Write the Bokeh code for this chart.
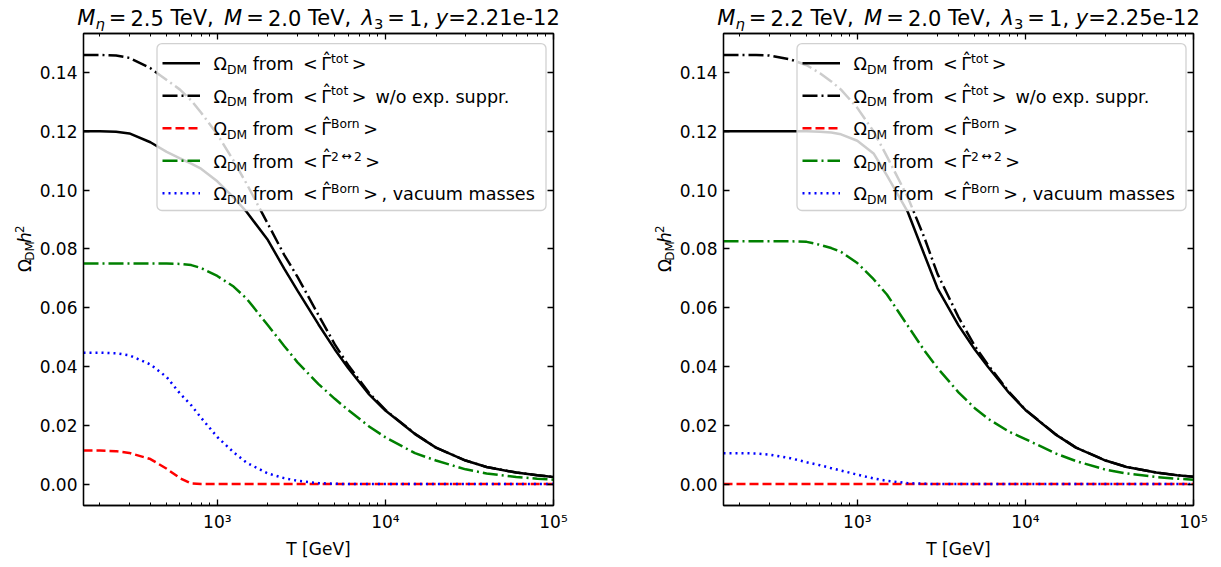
import math
from bokeh.plotting import figure
from bokeh.layouts import row, column
from bokeh.models import (Range1d, FixedTicker, LinearAxis, LogAxis, Label, Arrow,
                          BoxAnnotation, PrintfTickFormatter)
from bokeh.embed import file_html
from bokeh.resources import INLINE

# ---------------- data ----------------
T = [160, 200, 250, 300, 400, 500, 600, 700, 800, 1000, 1250, 1500, 2000, 2500,
     3000, 4000, 5000, 6000, 8000, 10000, 15000, 20000, 30000, 40000, 60000, 80000, 100000]

# left panel: M_eta = 2.5 TeV
tot_L = [0.1200, 0.1200, 0.1199, 0.1193, 0.1163, 0.1130, 0.1108, 0.1090, 0.1073, 0.1030,
         0.0975, 0.0925, 0.0830, 0.0733, 0.0658, 0.0543, 0.0458, 0.0395, 0.0305, 0.0250,
         0.0170, 0.0124, 0.0080, 0.0058, 0.0039, 0.0030, 0.0024]
nosup_L = [0.1460, 0.1460, 0.1458, 0.1450, 0.1415, 0.1375, 0.1342, 0.1305, 0.1264, 0.1190,
           0.1100, 0.1020, 0.0885, 0.0780, 0.0705, 0.0575, 0.0475, 0.0405, 0.0310, 0.0252,
           0.0171, 0.0124, 0.0080, 0.0058, 0.0039, 0.0030, 0.0024]
born_L = [0.0114, 0.0114, 0.0112, 0.0106, 0.0085, 0.0052, 0.0020, 0.0002, 0.0, 0.0,
          0.0, 0.0, 0.0, 0.0, 0.0, 0.0, 0.0, 0.0, 0.0, 0.0,
          0.0, 0.0, 0.0, 0.0, 0.0, 0.0, 0.0]
two_L = [0.0750, 0.0750, 0.0750, 0.0750, 0.0750, 0.0750, 0.0749, 0.0745, 0.0735, 0.0708,
         0.0672, 0.0630, 0.0540, 0.0470, 0.0414, 0.0340, 0.0290, 0.0252, 0.0196, 0.0159,
         0.0105, 0.0080, 0.0050, 0.0036, 0.0024, 0.0018, 0.0015]
vac_L = [0.0447, 0.0447, 0.0445, 0.0438, 0.0407, 0.0364, 0.0308, 0.0268, 0.0226, 0.0160,
         0.0108, 0.0072, 0.0036, 0.0020, 0.0011, 0.0003, 0.0001, 0.0, 0.0, 0.0,
         0.0, 0.0, 0.0, 0.0, 0.0, 0.0, 0.0]

# right panel: M_eta = 2.2 TeV
tot_R = [0.1200, 0.1200, 0.1200, 0.1200, 0.1200, 0.1200, 0.1199, 0.1196, 0.1190, 0.1168,
         0.1125, 0.1050, 0.0925, 0.0782, 0.0666, 0.0540, 0.0458, 0.0398, 0.0310, 0.0252,
         0.0170, 0.0124, 0.0080, 0.0058, 0.0039, 0.0030, 0.0025]
nosup_R = [0.1460, 0.1460, 0.1460, 0.1458, 0.1445, 0.1425, 0.1398, 0.1370, 0.1342, 0.1280,
           0.1200, 0.1115, 0.0975, 0.0840, 0.0715, 0.0568, 0.0470, 0.0405, 0.0313, 0.0253,
           0.0171, 0.0124, 0.0080, 0.0058, 0.0039, 0.0030, 0.0025]
born_R = [0.0] * 27
two_R = [0.0826, 0.0826, 0.0826, 0.0826, 0.0826, 0.0824, 0.0814, 0.0803, 0.0790, 0.0752,
         0.0697, 0.0645, 0.0538, 0.0455, 0.0395, 0.0312, 0.0258, 0.0222, 0.0178, 0.0153,
         0.0105, 0.0078, 0.0049, 0.0036, 0.0024, 0.0018, 0.0015]
vac_R = [0.0105, 0.0105, 0.0104, 0.0100, 0.0088, 0.0074, 0.0064, 0.0054, 0.0046, 0.0032,
         0.0019, 0.0011, 0.0003, 0.0001, 0.0, 0.0, 0.0, 0.0, 0.0, 0.0,
         0.0, 0.0, 0.0, 0.0, 0.0, 0.0, 0.0]

# titles
M_eta = ["2.5", "2.2"]
M_val = ["2.0", "2.0"]
lam3 = ["1", "1"]
yuk = ["2.21e-12", "2.25e-12"]

# legend superscripts / tails
leg_sup = ["tot", "tot", "Born", "2↔2", "Born"]
leg_tail = ["", " w/o exp. suppr.", "", "", ", vacuum masses"]

x_ticks = [1e3, 1e4, 1e5]
x_tick_labels = ["10³", "10⁴", "10⁵"]
y_ticks = [0.00, 0.02, 0.04, 0.06, 0.08, 0.10, 0.12, 0.14]
x_label = "T [GeV]"

XMIN, XMAX = 160, 1e5

# ---------------- styling ----------------
FONT = "DejaVu Sans"
FS = 17.0      # ticks, axis labels
LFS = 17.6     # legend
TFS = 21.0     # title
FW, FH = 470, 479
TITLE_H = 31
MAIN_TOP = 2
MAIN_BOT = 49
MAIN_H = MAIN_TOP + FH + MAIN_BOT
YLAB_W = 36
LW = 2.5
REL = 0.195
BFIX = 0.30    # correction of the label baseline placement (fraction of font size)

STYLES = [("black", "solid"), ("black", "15 4 2 4"), ("red", "9 4"),
          ("green", "15 4 2 4"), ("blue", "2 4")]

WID = {' ': .318, ',': .318, '.': .318, '/': .337, '-': .361, '=': .838, '<': .838,
       '>': .838, '[': .390, ']': .390, 'B': .686, 'D': .770, 'G': .775, 'M': .863,
       'T': .611, 'V': .684, 'a': .613, 'c': .550, 'e': .615, 'f': .352, 'h': .634,
       'm': .974, 'n': .634, 'o': .612, 'p': .635, 'r': .411, 's': .521, 't': .392,
       'u': .634, 'v': .592, 'w': .818, 'x': .592, 'y': .592, 'Ω': .765, 'Γ': .557,
       'η': .634, 'λ': .592, '↔': .838, 'ˆ': .500}
for d in "0123456789":
    WID[d] = .636


def twidth(s):
    return sum(WID.get(c, 0.6) for c in s)


def parts_width(parts, fs):
    w = 0
    for text, ital, sc, rise, pre in parts:
        w += pre * fs + twidth(text) * fs * sc
    return w


def put_text(p, X, Y, fx, fy, parts, fs):
    """Horizontal composite text; fx, fy in pixels (fy downward, baseline)."""
    x = fx
    for text, ital, sc, rise, pre in parts:
        x += pre * fs
        core = text.strip(" ")
        lead = len(text) - len(text.lstrip(" "))
        x += lead * WID[' '] * fs * sc
        if core:
            p.add_layout(Label(x=X(x), y=Y(fy - rise * fs - BFIX * fs * sc), text=core,
                               text_font=FONT, text_font_size=f"{fs * sc:.1f}px",
                               text_font_style="italic" if ital else "normal",
                               text_baseline="alphabetic", text_align="left",
                               text_color="black"))
        x += twidth(text.lstrip(" ")) * fs * sc
    return x


def put_text_up(p, X, Y, fx, fy, parts, fs):
    """Text rotated 90 deg, reading bottom to top; fy is the bottom start.
    Each piece is anchored at its own centre along the reading direction."""
    y = fy
    for text, ital, sc, rise, pre in parts:
        y -= pre * fs
        w = twidth(text) * fs * sc
        p.add_layout(Label(x=X(fx - rise * fs - BFIX * fs * sc), y=Y(y - w / 2), text=text,
                           angle=math.pi / 2,
                           text_font=FONT, text_font_size=f"{fs * sc:.1f}px",
                           text_font_style="italic" if ital else "normal",
                           text_baseline="alphabetic", text_align="center",
                           text_color="black"))
        y -= w


def blank_fig(w, h):
    f = figure(width=w, height=h, x_range=Range1d(0, w), y_range=Range1d(h, 0),
               output_backend="svg", toolbar_location=None, tools="",
               x_axis_location=None, y_axis_location=None, min_border=0)
    f.outline_line_color = None
    f.xgrid.visible = False
    f.ygrid.visible = False
    f.background_fill_color = "white"
    f.border_fill_color = "white"
    return f


def ident(v):
    return v


def style_axis(ax, labels=True):
    ax.major_tick_in = 6
    ax.major_tick_out = 0
    ax.minor_tick_in = 3
    ax.minor_tick_out = 0
    ax.axis_line_color = "black"
    ax.axis_line_width = 1.3
    ax.major_tick_line_color = "black"
    ax.major_tick_line_width = 1.3
    ax.minor_tick_line_color = "black"
    ax.minor_tick_line_width = 1.0
    ax.major_label_text_font = FONT
    ax.major_label_text_color = "black"
    if labels:
        ax.major_label_text_font_size = f"{FS}px"
        ax.major_label_standoff = 6
    else:
        ax.major_label_text_font_size = "1px"
        ax.major_label_text_alpha = 0.0
        ax.major_label_standoff = 0


def make_panel(i, curves, total_w, main_left):
    main_w = total_w - YLAB_W
    allv = [v for c in curves for v in c]
    lo, hi = min(allv), max(allv)
    span = hi - lo
    y0, y1 = lo - 0.05 * span, hi + 0.05 * span
    lx0, lx1 = math.log10(XMIN), math.log10(XMAX)

    def X(fx):
        return 10 ** (lx0 + fx / FW * (lx1 - lx0))

    def Y(fy):
        return y1 - fy / FH * (y1 - y0)

    p = figure(width=main_w, height=MAIN_H, x_axis_type="log",
               x_range=Range1d(XMIN, XMAX), y_range=Range1d(y0, y1),
               output_backend="svg", toolbar_location=None, tools="",
               min_border_left=main_left, min_border_right=main_w - main_left - FW,
               min_border_top=MAIN_TOP, min_border_bottom=MAIN_BOT)
    p.background_fill_color = "white"
    p.border_fill_color = "white"
    p.outline_line_color = "black"
    p.outline_line_width = 1.3
    p.xgrid.visible = False
    p.ygrid.visible = False

    minor = [k * 10 ** e for e in (2, 3, 4) for k in range(2, 10) if XMIN <= k * 10 ** e <= XMAX]

    p.xaxis.ticker = FixedTicker(ticks=x_ticks, minor_ticks=minor)
    p.xaxis.major_label_overrides = {t: s for t, s in zip(x_ticks, x_tick_labels)}
    p.yaxis.ticker = FixedTicker(ticks=y_ticks, minor_ticks=[])
    p.yaxis.formatter = PrintfTickFormatter(format="%.2f")
    for ax in p.xaxis + p.yaxis:
        style_axis(ax)
    p.yaxis.minor_tick_line_color = None
    p.xaxis.axis_label = x_label
    p.xaxis.axis_label_text_font = FONT
    p.xaxis.axis_label_text_font_size = f"{FS}px"
    p.xaxis.axis_label_text_font_style = "normal"
    p.xaxis.axis_label_text_color = "black"
    p.xaxis.axis_label_standoff = 4

    top = LogAxis(ticker=FixedTicker(ticks=x_ticks, minor_ticks=minor))
    style_axis(top, labels=False)
    p.add_layout(top, "above")
    right = LinearAxis(ticker=FixedTicker(ticks=y_ticks, minor_ticks=[]))
    style_axis(right, labels=False)
    right.minor_tick_line_color = None
    p.add_layout(right, "right")

    for vals, (col, dash) in zip(curves, STYLES):
        p.line(T, vals, line_color=col, line_width=LW, line_dash=dash)

    # legend
    p.add_layout(BoxAnnotation(left=X(73.5), right=X(462.5),
                               top=Y(10.2), bottom=Y(179.6),
                               fill_color="white", fill_alpha=0.8,
                               line_color="#cccccc", line_alpha=0.9, line_width=1.3,
                               border_radius=5))
    for k, (col, dash) in enumerate(STYLES):
        cy = 30.2 + 33.0 * k
        p.add_layout(Arrow(end=None, x_start=X(79), y_start=Y(cy),
                           x_end=X(116.5), y_end=Y(cy),
                           line_color=col, line_width=LW, line_dash=dash))
        sup = leg_sup[k]
        parts = [("Ω", False, 1, 0, 0), ("DM", False, 0.7, -0.22, 0),
                 (" from", False, 1, 0, 0), ("<", False, 1, 0, WID[' '] + REL)]
        gx = 130 + parts_width(parts, LFS) + REL * LFS
        parts += [("Γ", False, 1, 0, REL)]
        if "↔" in sup:
            a, b = sup.split("↔")
            parts += [(a, False, 0.7, 0.40, 0), ("↔", False, 0.7, 0.40, REL * 0.7),
                      (b, False, 0.7, 0.40, REL * 0.7)]
        else:
            parts += [(sup, False, 0.7, 0.40, 0)]
        parts += [(">", False, 1, 0, REL)]
        if leg_tail[k]:
            parts += [(leg_tail[k], False, 1, 0, REL)]
        by = cy + 6.3
        put_text(p, X, Y, 130, by, parts, LFS)
        # hat over Gamma
        put_text(p, X, Y, gx + 0.06 * LFS, by, [("ˆ", False, 1, 0.27, 0)], LFS)

    # title (separate figure above)
    tf = blank_fig(total_w, TITLE_H)
    tparts = [("M", True, 1, 0, 0), ("η", True, 0.7, -0.18, 0), ("=", False, 1, 0, REL),
              (M_eta[i], False, 1, 0, REL), (" TeV, ", False, 1, 0, 0),
              ("M", True, 1, 0, 0), ("=", False, 1, 0, REL), (M_val[i], False, 1, 0, REL),
              (" TeV, ", False, 1, 0, 0), ("λ", True, 1, 0, 0), ("3", False, 0.7, -0.18, 0),
              ("=", False, 1, 0, REL), (lam3[i], False, 1, 0, REL), (", ", False, 1, 0, 0),
              ("y", True, 1, 0, 0), ("=" + yuk[i], False, 1, 0, 0)]
    tw = parts_width(tparts, TFS)
    cx = YLAB_W + main_left + FW / 2
    put_text(tf, ident, ident, cx - tw / 2, 24, tparts, TFS)

    # y label (separate narrow figure on the left)
    yf = blank_fig(YLAB_W, MAIN_H)
    yparts = [("Ω", False, 1, 0, 0), ("DM", False, 0.7, -0.22, 0),
              ("h", True, 1, 0, 0), ("2", False, 0.7, 0.42, 0)]
    yw = parts_width(yparts, FS)
    put_text_up(yf, ident, ident, 29.5, MAIN_TOP + FH / 2 + yw / 2, yparts, FS)

    return column(tf, row(yf, p))


panel1 = make_panel(0, [tot_L, nosup_L, born_L, two_L, vac_L], 640, 47)
panel2 = make_panel(1, [tot_R, nosup_R, born_R, two_R, vac_R], 573, 47)
layout = row(panel1, panel2)

open("out.html", "w").write(file_html(layout, INLINE))
